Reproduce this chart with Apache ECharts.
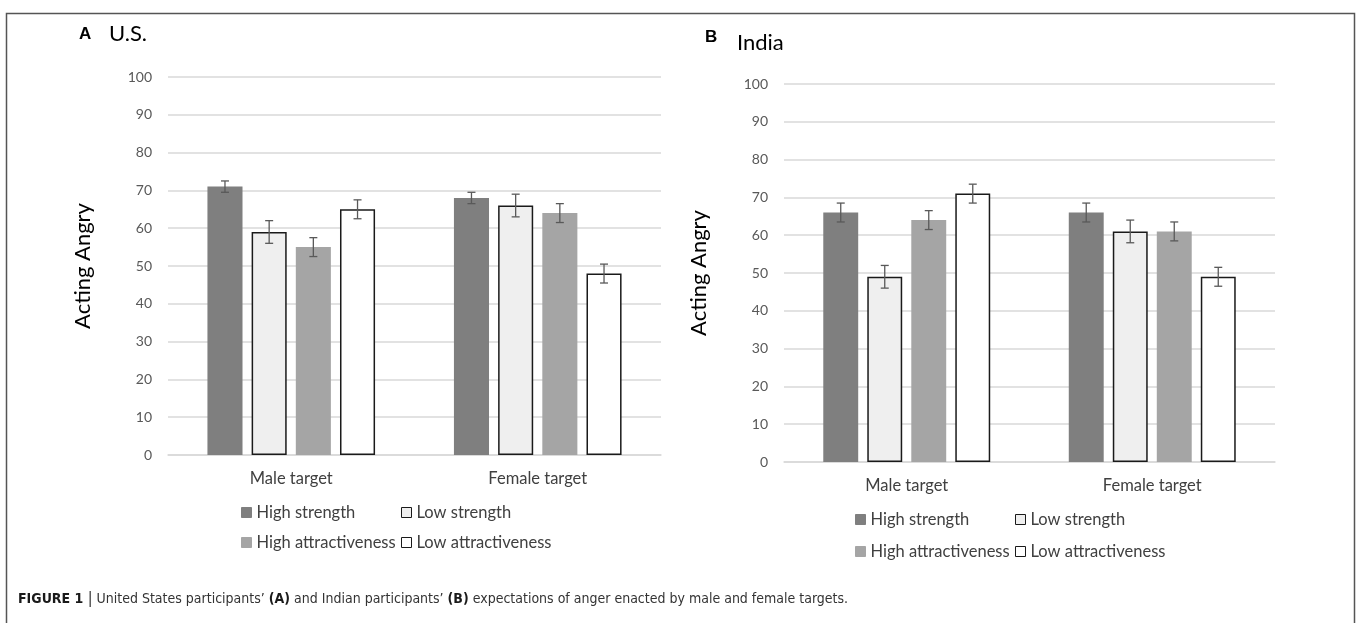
<!DOCTYPE html>
<html>
<head>
<meta charset="utf-8">
<script src="https://cdn.jsdelivr.net/npm/echarts@6/dist/echarts.min.js"></script>
<style>
html,body{margin:0;padding:0;background:#fff;}
#chart{width:1358px;height:623px;}
</style>
</head>
<body>
<div id="chart"></div>
<script>
// ---- data ----
const categories = ['Male target', 'Female target'];
const seriesNames = ['High strength', 'Low strength', 'High attractiveness', 'Low attractiveness'];
const yTicks = [0, 10, 20, 30, 40, 50, 60, 70, 80, 90, 100];

// Panel A: U.S.
const usHighStrength = [71, 68];
const usLowStrength = [59, 66];
const usHighAttr = [55, 64];
const usLowAttr = [65, 48];
const usHighStrengthErr = [1.5, 1.5];
const usLowStrengthErr = [3, 3];
const usHighAttrErr = [2.5, 2.5];
const usLowAttrErr = [2.5, 2.5];

// Panel B: India
const inHighStrength = [66, 66];
const inLowStrength = [49, 61];
const inHighAttr = [64, 61];
const inLowAttr = [71, 49];
const inHighStrengthErr = [2.5, 2.5];
const inLowStrengthErr = [3, 3];
const inHighAttrErr = [2.5, 2.5];
const inLowAttrErr = [2.5, 2.5];

// ---- styles ----
const fills = ['#7f7f7f', '#efefef', '#a5a5a5', '#ffffff'];
const borders = [null, '#1a1a1a', null, '#1a1a1a'];
const FONT = 'Lato, "Open Sans", sans-serif';
const CAP_FONT = '"Liberation Sans Narrow", "DejaVu Sans Condensed", sans-serif';
const CAT_GAP = 0.32, BAR_GAP = 0.26;

const chart = echarts.init(document.getElementById('chart'), null, {renderer: 'canvas'});

function barSeries(name, idx, data, gridIdx) {
  return {
    name: name, type: 'bar', xAxisIndex: gridIdx, yAxisIndex: gridIdx,
    data: data, barGap: (BAR_GAP * 100) + '%', barCategoryGap: (CAT_GAP * 100) + '%',
    itemStyle: {color: fills[idx], borderColor: borders[idx] || fills[idx], borderWidth: borders[idx] ? 1.5 : 0},
    emphasis: {disabled: true}, animation: false
  };
}
function errSeries(idx, vals, errs, gridIdx) {
  return {
    type: 'custom', xAxisIndex: gridIdx, yAxisIndex: gridIdx, z: 5, silent: true, animation: false,
    data: vals.map((v, i) => [i, v, errs[i]]),
    renderItem: function (params, api) {
      const ci = api.value(0), v = api.value(1), e = api.value(2);
      const base = api.coord([ci, v]);
      const band = api.size([1, 0])[0];
      const group = band * (1 - CAT_GAP);
      const w = group / (4 + 3 * BAR_GAP);
      const x = base[0] - group / 2 + idx * w * (1 + BAR_GAP) + w / 2;
      const yHi = api.coord([ci, v + e])[1];
      const yLo = api.coord([ci, v - e])[1];
      const st = {stroke: '#595959', lineWidth: 1.3};
      const c = 4;
      return {type: 'group', children: [
        {type: 'line', shape: {x1: x, y1: yHi, x2: x, y2: yLo}, style: st},
        {type: 'line', shape: {x1: x - c, y1: yHi, x2: x + c, y2: yHi}, style: st},
        {type: 'line', shape: {x1: x - c, y1: yLo, x2: x + c, y2: yLo}, style: st}
      ]};
    }
  };
}

const usVals = [usHighStrength, usLowStrength, usHighAttr, usLowAttr];
const usErrs = [usHighStrengthErr, usLowStrengthErr, usHighAttrErr, usLowAttrErr];
const inVals = [inHighStrength, inLowStrength, inHighAttr, inLowAttr];
const inErrs = [inHighStrengthErr, inLowStrengthErr, inHighAttrErr, inLowAttrErr];

const series = [];
seriesNames.forEach((n, i) => series.push(barSeries(n, i, usVals[i], 0)));
seriesNames.forEach((n, i) => series.push(barSeries(n, i, inVals[i], 1)));
seriesNames.forEach((n, i) => series.push(errSeries(i, usVals[i], usErrs[i], 0)));
seriesNames.forEach((n, i) => series.push(errSeries(i, inVals[i], inErrs[i], 1)));

function xAxis(gi) {
  return {
    type: 'category', gridIndex: gi, data: categories,
    axisLine: {lineStyle: {color: '#d9d9d9', width: 1.5}},
    axisTick: {show: false},
    axisLabel: {color: '#404040', fontSize: 16.5, fontFamily: FONT, margin: 15}
  };
}
function yAxis(gi) {
  return {
    type: 'value', gridIndex: gi, min: yTicks[0], max: yTicks[yTicks.length - 1], interval: 10,
    name: 'Acting Angry', nameLocation: 'middle', nameGap: 74,
    nameTextStyle: {fontSize: 22, color: '#000', fontFamily: FONT},
    axisLine: {show: false}, axisTick: {show: false},
    axisLabel: {color: '#595959', fontSize: 14, fontFamily: FONT, margin: 16},
    splitLine: {lineStyle: {color: '#d9d9d9', width: 1.5}}
  };
}
function legend(left, top, name) {
  return {
    left: left, top: top, orient: 'horizontal', data: [name], icon: 'rect',
    itemWidth: 10, itemHeight: 10, itemGap: 0, selectedMode: false, padding: 0,
    itemStyle: {borderWidth: 1},
    textStyle: {color: '#404040', fontSize: 16.5, fontFamily: FONT, padding: [0, 0, 0, 0]}
  };
}

const option = {
  backgroundColor: '#fff',
  animation: false,
  grid: [
    {left: 168, right: 697, top: 77, bottom: 168},
    {left: 784, right: 83, top: 84, bottom: 161}
  ],
  xAxis: [xAxis(0), xAxis(1)],
  yAxis: [yAxis(0), yAxis(1)],
  legend: [
    legend(241, 504, seriesNames[0]),
    legend(401, 504, seriesNames[1]),
    legend(241, 534, seriesNames[2]),
    legend(401, 534, seriesNames[3]),
    legend(855, 511, seriesNames[0]),
    legend(1015, 511, seriesNames[1]),
    legend(855, 543, seriesNames[2]),
    legend(1015, 543, seriesNames[3])
  ],
  series: series,
  graphic: [
    {type: 'rect', shape: {x: 6.5, y: 13.5, width: 1348, height: 630}, style: {fill: 'none', stroke: '#555', lineWidth: 1.5}, silent: true},
    {type: 'text', left: 79, top: 26, style: {text: 'A', font: 'bold 17px "Liberation Sans", Arial, sans-serif', fill: '#000'}},
    {type: 'text', left: 109, top: 23, style: {text: 'U.S.', font: '22px ' + FONT, fill: '#000'}},
    {type: 'text', left: 705, top: 29, style: {text: 'B', font: 'bold 17px "Liberation Sans", Arial, sans-serif', fill: '#000'}},
    {type: 'text', left: 737, top: 32, style: {text: 'India', font: '22px ' + FONT, fill: '#000'}},
    {type: 'text', left: 18, top: 591, style: {
      rich: {
        b: {fontFamily: CAP_FONT, fontWeight: 'bold', fontSize: 14, fill: '#1a1a1a'},
        r: {fontFamily: CAP_FONT, fontSize: 14, fill: '#333'},
        bar: {fontFamily: CAP_FONT, fontSize: 16, fill: '#333'}
      },
      text: '{b|FIGURE 1 }{bar||}{r| United States participants’ }{b|(A)}{r| and Indian participants’ }{b|(B)}{r| expectations of anger enacted by male and female targets.}'
    }}
  ]
};
chart.setOption(option);
</script>
</body>
</html>
